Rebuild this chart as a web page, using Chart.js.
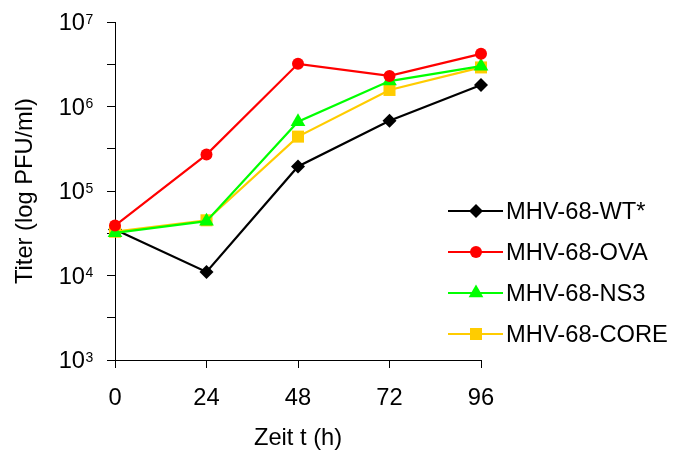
<!DOCTYPE html>
<html>
<head>
<meta charset="utf-8">
<script src="https://cdn.jsdelivr.net/npm/chart.js@4/dist/chart.umd.min.js"></script>
<style>
  html, body { margin: 0; padding: 0; background: #fff; }
  canvas { display: block; }
</style>
</head>
<body>
<canvas id="chart" width="676" height="456"></canvas>
<script>
// Virus titers over time (log scale)
const hours = ["0", "24", "48", "72", "96"]
const wt   = [3.5e4, 1.1e4, 1.95e5, 6.8e5, 1.8e6]
const ova  = [3.9e4, 2.7e5, 3.2e6, 2.3e6, 4.2e6]
const ns3  = [3.2e4, 4.4e4, 6.6e5, 2.0e6, 3.0e6]
const core = [3.3e4, 4.5e4, 4.4e5, 1.57e6, 2.9e6]
// decade exponents for labels; half decades get an unlabeled tick
const tickExponents = [3, 3.5, 4, 4.5, 5, 5.5, 6, 6.5, 7]

const FONT = "'Liberation Sans', Arial, sans-serif"
const SIZE = 23.7

function series(label, data, color, pointStyle, radius, order) {
  return {
    label, data, order, pointStyle,
    borderColor: color,
    backgroundColor: color,
    pointBackgroundColor: color,
    pointBorderColor: color,
    borderWidth: 2.2,
    pointRadius: radius,
    pointBorderWidth: 0,
    pointHoverRadius: radius,
    tension: 0,
    clip: false
  }
}

// y labels as 10 with a raised exponent
const powerLabels = {
  id: "powerLabels",
  afterDraw(chart) {
    const y = chart.scales.y
    const ctx = chart.ctx
    ctx.save()
    ctx.fillStyle = "#000"
    y.ticks.forEach(t => {
      const e = Math.round(Math.log10(t.value) * 2) / 2
      if (e % 1 !== 0) return
      const py = y.getPixelForValue(t.value)
      ctx.font = SIZE + "px " + FONT
      ctx.textAlign = "right"
      ctx.textBaseline = "alphabetic"
      ctx.fillText("10", 85, py + 8)
      ctx.font = "14px " + FONT
      ctx.textAlign = "left"
      ctx.fillText(String(e), 85.5, py + 1.5)
    })
    ctx.restore()
  }
}

// legend: line segment with marker, then label
const lineLegend = {
  id: "lineLegend",
  afterDraw(chart) {
    const ctx = chart.ctx
    ctx.save()
    chart.data.datasets.forEach((ds, i) => {
      const cy = 211 + i * 41
      ctx.strokeStyle = ds.borderColor
      ctx.lineWidth = ds.borderWidth
      ctx.beginPath()
      ctx.moveTo(448, cy)
      ctx.lineTo(503, cy)
      ctx.stroke()
      ctx.fillStyle = ds.backgroundColor
      Chart.helpers.drawPoint(ctx, {
        pointStyle: ds.pointStyle, radius: ds.pointRadius, borderWidth: 0, rotation: 0
      }, 476, cy)
      ctx.fillStyle = "#000"
      ctx.font = SIZE + "px " + FONT
      ctx.textAlign = "left"
      ctx.textBaseline = "middle"
      ctx.fillText(ds.label, 506, cy + 1)
    })
    ctx.restore()
  }
}

new Chart(document.getElementById("chart"), {
  type: "line",
  data: {
    labels: hours,
    datasets: [
      series("MHV-68-WT*", wt, "#000000", "rectRot", 7, 3),
      series("MHV-68-OVA", ova, "#ff0000", "circle", 6, 0),
      series("MHV-68-NS3", ns3, "#00ff00", "triangle", 8.5, 1),
      series("MHV-68-CORE", core, "#ffcc00", "rect", 8.5, 2)
    ]
  },
  options: {
    responsive: false,
    animation: false,
    layout: { padding: { top: 22, right: 195, left: 0, bottom: 0 } },
    plugins: { legend: { display: false }, tooltip: { enabled: false } },
    scales: {
      x: {
        type: "category",
        offset: false,
        afterFit: s => { s.height = 96 },
        grid: { drawOnChartArea: false, drawTicks: true, tickLength: 8, color: "#000" },
        border: { display: true, color: "#000", width: 1 },
        ticks: {
          color: "#000", font: { family: FONT, size: SIZE },
          padding: 16, maxRotation: 0, autoSkip: false
        },
        title: {
          display: true, text: "Zeit t (h)", color: "#000",
          font: { family: FONT, size: SIZE, lineHeight: 1.2 },
          padding: { top: 0, bottom: 3 }
        }
      },
      y: {
        type: "logarithmic",
        min: 1e3,
        max: 1e7,
        afterFit: s => { s.width = 115 },
        afterBuildTicks: s => {
          s.ticks = tickExponents.map(e => ({ value: Math.pow(10, e) }))
        },
        grid: { drawOnChartArea: false, drawTicks: true, tickLength: 8, color: "#000" },
        border: { display: true, color: "#000", width: 1 },
        ticks: { callback: () => "", font: { family: FONT, size: SIZE } },
        title: {
          display: true, text: "Titer (log PFU/ml)", color: "#000",
          font: { family: FONT, size: SIZE, lineHeight: 1.2 },
          padding: { top: 11, bottom: 0 }
        }
      }
    }
  },
  plugins: [powerLabels, lineLegend]
})
</script>
</body>
</html>
